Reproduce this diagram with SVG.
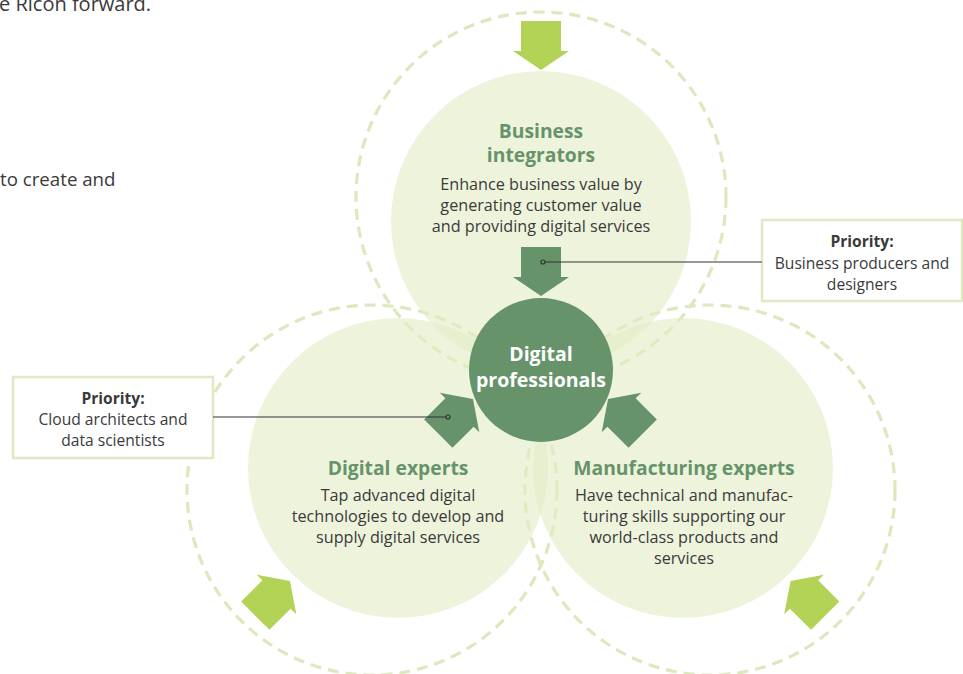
<svg xmlns="http://www.w3.org/2000/svg" width="963" height="674" viewBox="0 0 963 674">
<style>
.dash{fill:none;stroke:#dce8bd;stroke-width:3.2;stroke-dasharray:11 7}
.fill{fill:#e3edc5;fill-opacity:0.6}
.ttl{font-family:"Open Sans","Liberation Sans",sans-serif;font-weight:bold;font-size:19.3px;fill:#67936b;text-anchor:middle}
.body{font-family:"Open Sans","Liberation Sans",sans-serif;font-size:16.2px;fill:#3a3a3a;text-anchor:middle}
.pri{font-family:"Open Sans","Liberation Sans",sans-serif;font-size:15.6px;fill:#3a3a3a;text-anchor:middle}
.box{fill:#ffffff;stroke:#e0e9c3;stroke-width:2.5}
.dk{fill:#67936b}
.lt{fill:#b2d356}
.lead{stroke:#333;stroke-width:1.2;fill:none}
.dot{fill:#67936b;stroke:#333;stroke-width:1.2}
.side{font-family:"Open Sans","Liberation Sans",sans-serif;fill:#3a3a3a}
</style>
<defs>
<path id="arr" d="M-20,-30 L20,-30 L20,0 L28,0 L0,19 L-28,0 L-20,0 Z"/>
</defs>
<rect width="963" height="674" fill="#ffffff"/>
<text class="side" x="-1" y="11" font-size="20">e Ricon forward.</text>
<text class="side" x="0" y="186" font-size="18.7">to create and</text>
<g id="rings">
<circle class="dash" cx="541" cy="197" r="185"/>
<circle class="dash" cx="372" cy="490" r="185"/>
<circle class="dash" cx="710" cy="490" r="185"/>
</g>
<g id="business-integrators">
<circle class="fill" cx="541" cy="221" r="150"/>
<text class="ttl" x="541" y="138">Business</text>
<text class="ttl" x="541" y="162">integrators</text>
<text class="body" x="541" y="190">Enhance business value by</text>
<text class="body" x="541" y="211">generating customer value</text>
<text class="body" x="541" y="232">and providing digital services</text>
</g>
<g id="digital-experts">
<circle class="fill" cx="398" cy="468" r="150"/>
<text class="ttl" x="398" y="475">Digital experts</text>
<text class="body" x="398" y="501">Tap advanced digital</text>
<text class="body" x="398" y="522">technologies to develop and</text>
<text class="body" x="398" y="543">supply digital services</text>
</g>
<g id="manufacturing-experts">
<circle class="fill" cx="683" cy="468" r="150"/>
<text class="ttl" x="684" y="475">Manufacturing experts</text>
<text class="body" x="684" y="501">Have technical and manufac-</text>
<text class="body" x="684" y="522">turing skills supporting our</text>
<text class="body" x="684" y="543">world-class products and</text>
<text class="body" x="684" y="564">services</text>
</g>
<g id="arrows">
<use href="#arr" class="lt" transform="translate(541,51)"/>
<use href="#arr" class="lt" transform="translate(276.5,594.5) rotate(-135)"/>
<use href="#arr" class="lt" transform="translate(804,594.5) rotate(135)"/>
<use href="#arr" class="dk" transform="translate(541,277)"/>
<use href="#arr" class="dk" transform="translate(459.5,412.5) rotate(-135)"/>
<use href="#arr" class="dk" transform="translate(621.5,412.5) rotate(135)"/>
</g>
<g id="digital-professionals">
<circle class="dk" cx="541" cy="370" r="72"/>
<text x="541" y="361" font-family="'Open Sans','Liberation Sans',sans-serif" font-weight="bold" font-size="19.5" fill="#ffffff" text-anchor="middle">Digital</text>
<text x="541" y="387" font-family="'Open Sans','Liberation Sans',sans-serif" font-weight="bold" font-size="19.5" fill="#ffffff" text-anchor="middle">professionals</text>
</g>
<g id="priority-right">
<rect class="box" x="762" y="220" width="200" height="81"/>
<text class="pri" x="862" y="247" font-weight="bold">Priority:</text>
<text class="pri" x="862" y="269">Business producers and</text>
<text class="pri" x="862" y="290">designers</text>
</g>
<g id="priority-left">
<rect class="box" x="13" y="377" width="200" height="81"/>
<text class="pri" x="113" y="404" font-weight="bold">Priority:</text>
<text class="pri" x="113" y="425">Cloud architects and</text>
<text class="pri" x="113" y="446">data scientists</text>
</g>
<g id="connectors">
<line class="lead" x1="543" y1="262" x2="762" y2="262"/>
<circle class="dot" cx="543" cy="262" r="2"/>
<line class="lead" x1="213" y1="417" x2="448" y2="417"/>
<circle class="dot" cx="448" cy="417" r="2"/>
</g>
</svg>
